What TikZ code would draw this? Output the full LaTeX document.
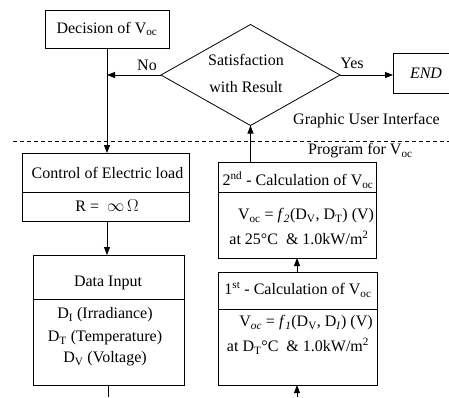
\documentclass[tikz,border=0pt]{standalone}
\usepackage{fontspec}
\setmainfont{Liberation Serif}
\usetikzlibrary{shapes.geometric,arrows.meta}
\newcommand{\Voc}{V\textsubscript{oc}}
\begin{document}
\begin{tikzpicture}[x=1pt,y=-1pt,
  box/.style={draw,line width=0.8pt,inner sep=0pt,outer sep=0pt},
  txt/.style={inner sep=0pt,font=\fontsize{16}{18}\selectfont},
  arr/.style={line width=0.8pt,-{Triangle[length=8pt,width=6pt]}},
  ln/.style={line width=0.8pt},
  dash/.style={}]
\useasboundingbox (0,0) rectangle (449,397);
\fill[white] (0,0) rectangle (449,397);
% boxes
\node[box,txt,minimum width=124pt,minimum height=38pt] (dec) at (107,29) {Decision of \Voc};
\node[draw,ln,diamond,aspect=1.77,minimum width=179pt,minimum height=101pt,inner sep=0pt,outer sep=0pt] (dia) at (250.5,75) {};
\node[txt] (sat1) at (246,60) {Satisfaction};
\node[txt] (sat2) at (246,87) {with Result};
\node[box,txt,minimum width=66pt,minimum height=40pt] (end) at (426,73) {\textit{END}};
\node[box,minimum width=167pt,minimum height=68pt] (ctrl) at (105.5,187) {};
\node[box,minimum width=151pt,minimum height=130pt] (data) at (108.5,320) {};
\node[box,minimum width=158pt,minimum height=96pt] (ctwo) at (297,210) {};
\node[box,minimum width=159pt,minimum height=113pt] (cone) at (297.5,328.5) {};
% dividers
\draw[ln] (ctrl.west |- 0,192) -- (ctrl.east |- 0,192);
\draw[ln] (data.west |- 0,299) -- (data.east |- 0,299);
\draw[ln] (ctwo.west |- 0,192) -- (ctwo.east |- 0,192);
\draw[ln] (cone.west |- 0,309) -- (cone.east |- 0,309);
% texts
\node[txt] (t1) at (107.5,173) {Control of Electric load};
\node[txt] (t2) at (107,206) {R =\ \ $\infty$\,$\Omega$};
\node[txt] (t3) at (108,283) {Data Input};
\node[txt] (t4) at (105,315) {D\textsubscript{I} (Irradiance)};
\node[txt] (t5) at (105,338) {D\textsubscript{T} (Temperature)};
\node[txt] (t6) at (105,359) {D\textsubscript{V} (Voltage)};
\node[txt] (t7) at (298,180) {2\textsuperscript{nd} - Calculation of \Voc};
\node[txt] (t8) at (306,216) {\Voc\ = \textit{f}\textsubscript{\textit{2}}(D\textsubscript{V}, D\textsubscript{T}) (V)};
\node[txt] (t9) at (299,238) {at 25\textdegree C\ \ \& 1.0kW/m\textsuperscript{2}};
\node[txt] (t10) at (298,290) {1\textsuperscript{st} - Calculation of \Voc};
\node[txt] (t11) at (306,323) {V\textsubscript{\textit{oc}} = \textit{f}\textsubscript{\textit{1}}(D\textsubscript{V}, D\textsubscript{\textit{I}}) (V)};
\node[txt] (t12) at (298,346) {at D\textsubscript{T}\textdegree C\ \ \& 1.0kW/m\textsuperscript{2}};
\node[txt] (no) at (147,65) {No};
\node[txt] (yes) at (352,63) {Yes};
\node[txt,anchor=west] (gui) at (293,121) {Graphic User Interface};
\node[txt,anchor=west] (prog) at (308,151) {Program for \Voc};
% dashed separator
\coordinate (dl) at (13,141);
\coordinate (dr) at (449,141);
\draw[ln,dash pattern=on 4pt off 3pt] (dl) -- (dr);
% connectors
\coordinate (jn) at (dec.south |- dia.west);
\draw[ln] (dec.south) -- (jn);
\draw[arr] (jn) -- (dec.south |- ctrl.north);
\draw[arr] (dia.west) -- (jn);
\draw[arr] (dia.east) -- (dia.east -| end.west);
\draw[arr] (ctrl.south -| dec.south) -- (dec.south |- data.north);
\coordinate (bota) at (108,397);
\draw[ln] (bota |- data.south) -- (bota);
\coordinate (botb) at (297,397);
\draw[arr] (botb) -- (botb |- cone.south);
\draw[arr] (botb |- cone.north) -- (botb |- ctwo.south);
\draw[arr] (ctwo.north -| dia.south) -- (dia.south);
\end{tikzpicture}
\end{document}
